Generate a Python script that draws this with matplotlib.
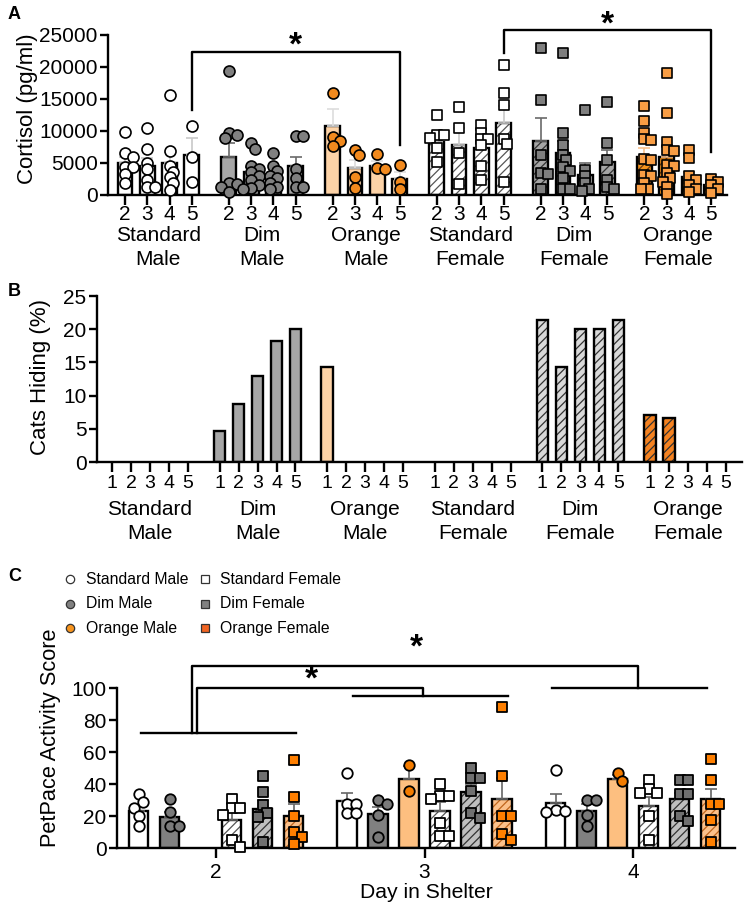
import numpy as np
import matplotlib
matplotlib.use("Agg")
import matplotlib.pyplot as plt
from matplotlib.lines import Line2D

plt.rcParams["font.family"] = ["Liberation Sans", "DejaVu Sans"]
plt.rcParams["hatch.linewidth"] = 0.9

# ---------------- data ----------------
groups = ["Standard Male", "Dim Male", "Orange Male",
          "Standard Female", "Dim Female", "Orange Female"]
group_ticks = ["Standard\nMale", "Dim\nMale", "Orange\nMale",
               "Standard\nFemale", "Dim\nFemale", "Orange\nFemale"]

# A: cortisol (pg/ml), shelter days 2-5
cort_days = ["2", "3", "4", "5"]
cort_mean_std_m = [5000, 4500, 4950, 6250]
cort_mean_dim_m = [6000, 3600, 2800, 4500]
cort_mean_org_m = [10800, 4200, 4500, 2450]
cort_mean_std_f = [8300, 7800, 7300, 11300]
cort_mean_dim_f = [8500, 6500, 3100, 5200]
cort_mean_org_f = [6000, 6000, 2800, 1500]
cort_sem_std_m = [900, 1300, 1800, 2600]
cort_sem_dim_m = [2200, 800, 600, 1500]
cort_sem_org_m = [2600, 1300, 800, 1100]
cort_sem_std_f = [1000, 2700, 1200, 2600]
cort_sem_dim_f = [3600, 1900, 1900, 1800]
cort_sem_org_f = [1300, 1500, 800, 400]
cort_pts_std_m = [[9800, 6500, 6000, 4400, 4400, 3300, 1900],
                  [10400, 7200, 5000, 4000, 2300, 1200, 1200],
                  [15600, 6900, 4500, 3600, 2800, 1900, 800],
                  [10800, 6000, 2000]]
cort_pts_dim_m = [[19300, 9700, 9400, 8900, 1800, 1700, 1300, 400],
                  [8100, 7200, 4600, 4000, 3600, 3000, 2300, 1600, 1100, 1000],
                  [6600, 4500, 3700, 3000, 2600, 1900, 1300, 900],
                  [9200, 9200, 4000, 2700, 1200, 1200]]
cort_pts_org_m = [[16000, 9100, 8500, 7700],
                  [7100, 6200, 2800, 1100],
                  [6400, 4200, 4100],
                  [4700, 2100, 900]]
cort_pts_std_f = [[12500, 9300, 9300, 8900, 7300, 5200],
                  [13700, 10500, 6600, 1700],
                  [10900, 9700, 8700, 8700, 7800, 4500, 2300],
                  [20300, 16000, 14100, 8700, 7900, 2100]]
cort_pts_dim_f = [[23000, 14800, 6200, 3500, 3300, 1000],
                  [22200, 9700, 7800, 6200, 5500, 4300, 3700, 2600, 900, 900],
                  [13300, 3900, 3000, 1800, 1000, 700],
                  [14600, 8100, 5500, 2300, 1200, 1000]]
cort_pts_org_f = [[13900, 11600, 9700, 8700, 8600, 5600, 5500, 3100, 3000, 1800, 1000, 900],
                  [19100, 12800, 8300, 7000, 6800, 4700, 4500, 3400, 2600, 2000, 1300, 100],
                  [7000, 5800, 3000, 2400, 1600, 1000, 500],
                  [2500, 2100, 1600, 1000, 300]]

# B: cats hiding (%), days 1-5
hide_days = ["1", "2", "3", "4", "5"]
hide_std_m = [0, 0, 0, 0, 0]
hide_dim_m = [4.7, 8.7, 13.0, 18.2, 20.0]
hide_org_m = [14.3, 0, 0, 0, 0]
hide_std_f = [0, 0, 0, 0, 0]
hide_dim_f = [21.4, 14.3, 20.0, 20.0, 21.4]
hide_org_f = [7.1, 6.7, 0, 0, 0]

# C: PetPace activity score, days 2-4
act_days = [2, 3, 4]
act_mean_std_m = [23.5, 29.6, 28.1]
act_mean_dim_m = [19.8, 21.3, 23.3]
act_mean_org_m = [np.nan, 43.1, 43.5]
act_mean_std_f = [17.7, 23.3, 26.5]
act_mean_dim_f = [24.4, 35.0, 30.6]
act_mean_org_f = [20.2, 30.6, 30.6]
act_sem_std_m = [3.5, 4.8, 5.7]
act_sem_dim_m = [3.0, 4.5, 4.3]
act_sem_org_m = [0, 8.2, 2.5]
act_sem_std_f = [5.0, 5.5, 5.7]
act_sem_dim_f = [5.5, 5.0, 4.2]
act_sem_org_f = [7.8, 13.5, 6.3]
act_pts_std_m = [[34, 29, 25.5, 20, 14], [47, 28, 28, 22, 22], [49, 24, 23.5, 23]]
act_pts_dim_m = [[31, 23, 14, 14], [30, 28, 21, 7], [30.5, 30, 21, 14]]
act_pts_org_m = [[], [52, 36], [47, 42]]
act_pts_std_f = [[31, 25, 25, 21, 5, 1], [40, 33, 33, 31, 16, 8, 8], [43, 37, 34.5, 34.5, 20, 5]]
act_pts_dim_f = [[45, 35, 27, 22, 19.5, 4], [50, 44, 44, 36, 22, 19], [43, 43, 34, 34, 20, 17]]
act_pts_org_f = [[55, 32, 20, 10, 7, 3], [88.5, 45, 20, 20, 9, 5], [56, 43, 28, 28, 18, 4]]

# ---------------- helpers ----------------
W, H = 748, 915


def box(l, t, r, b):
    return [l / W, 1 - b / H, (r - l) / W, (b - t) / H]


def style(ax):
    for s in ["top", "right"]:
        ax.spines[s].set_visible(False)
    for s in ["left", "bottom"]:
        ax.spines[s].set_linewidth(1.7)
    ax.tick_params(width=1.7, length=6, labelsize=15, colors="black")
    ax.tick_params(axis="y", pad=1.5)


def bars(ax, x, h, width, fill, hatch, hatch_col, lw=1.7):
    if hatch:
        ax.bar(x, h, width, color=fill, edgecolor=hatch_col, hatch=hatch,
               linewidth=0, zorder=2)
        ax.bar(x, h, width, fill=False, edgecolor="black", linewidth=lw, zorder=2.2)
    else:
        ax.bar(x, h, width, color=fill, edgecolor="black", linewidth=lw, zorder=2)


def swarm(ax, xc, vals, d, gap=0.55, step=0.35):
    # spread overlapping points sideways (like a bee-swarm)
    pix = ax.transData.transform(np.column_stack([np.full(len(vals), xc), vals]))
    placed, out = [], []
    for px, py in pix:
        k = 0
        found = None
        while found is None:
            cands = [px] if k == 0 else [px + k * step * d, px - k * step * d]
            for c in cands:
                if all(np.hypot(c - qx, py - qy) >= d * gap for qx, qy in placed):
                    found = c
                    break
            k += 1
        placed.append((found, py))
        out.append(found)
    return ax.transData.inverted().transform(np.column_stack([out, pix[:, 1]]))[:, 0]


fig = plt.figure(figsize=(W / 100, H / 100), dpi=100)

# ---------------- panel A ----------------
axA = fig.add_axes(box(108, 35, 727, 195))
style(axA)
A_step = 4.66
A_means = [cort_mean_std_m, cort_mean_dim_m, cort_mean_org_m,
           cort_mean_std_f, cort_mean_dim_f, cort_mean_org_f]
A_sems = [cort_sem_std_m, cort_sem_dim_m, cort_sem_org_m,
          cort_sem_std_f, cort_sem_dim_f, cort_sem_org_f]
A_pts = [cort_pts_std_m, cort_pts_dim_m, cort_pts_org_m,
         cort_pts_std_f, cort_pts_dim_f, cort_pts_org_f]
A_fill = ["white", "#a6a6a6", "#fdd3a7", "white", "#a6a6a6", "#f7941d"]
A_hatch = [None, None, None, "////", "////", "////"]
A_hcol = [None, None, None, "#555555", "#333333", "#6b3a10"]
A_pcol = ["white", "#808080", "#f28a1e", "white", "#7f7f7f", "#f89d44"]
A_mk = ["o", "o", "o", "s", "s", "s"]
A_ecol = ["#c8c8c8", "#6a6a6a", "#dddddd", "#c8c8c8", "#6a6a6a", "#f9c08a"]

axA.set_xlim(-0.76, 27.0)
axA.set_ylim(0, 25000)
axA.set_yticks(np.arange(0, 25001, 5000))
xt, xl = [], []
for g in range(6):
    xs = g * A_step + np.arange(len(cort_days))
    xt += list(xs)
    xl += cort_days
    bars(axA, xs, A_means[g], 0.66, A_fill[g], A_hatch[g], A_hcol[g])
    axA.errorbar(xs, A_means[g], yerr=[np.zeros(4), A_sems[g]], fmt="none",
                 ecolor=A_ecol[g], elinewidth=1.2, capsize=4, capthick=1.2, zorder=3)
    for i, x in enumerate(xs):
        d = 11 if A_mk[g] == "o" else 10
        px = swarm(axA, x, A_pts[g][i], d)
        axA.scatter(px, A_pts[g][i], s=(d / 1.389) ** 2, marker=A_mk[g],
                    facecolor=A_pcol[g], edgecolor="black", linewidth=1.2,
                    zorder=4, clip_on=False)
    axA.text(g * A_step + 1.5, -0.195, group_ticks[g], transform=axA.get_xaxis_transform(),
             ha="center", va="top", fontsize=15, linespacing=1.3)
axA.set_xticks(xt)
axA.set_xticklabels(xl)
axA.tick_params(axis="x", labelsize=15, length=7, pad=0.5)
axA.set_ylabel("Cortisol (pg/ml)", fontsize=16)
axA.yaxis.set_label_coords(-0.113, 0.54)

# significance brackets
x1, x2 = 3, 2 * A_step + 3
axA.plot([x1, x1, x2, x2], [13300, 22300, 22300, 7800], color="black", lw=1.7, clip_on=False)
axA.text((x1 + x2) / 2, 23300, "*", ha="center", va="center", fontsize=24, fontweight="bold")
x1, x2 = 3 * A_step + 3, 5 * A_step + 3
axA.plot([x1, x1, x2, x2], [22200, 25800, 25800, 6700], color="black", lw=1.7, clip_on=False)
axA.text((x1 + x2) / 2, 26600, "*", ha="center", va="center", fontsize=24,
         fontweight="bold", clip_on=False)

# ---------------- panel B ----------------
axB = fig.add_axes(box(97, 296, 742, 462))
style(axB)
B_step = 5.67
B_vals = [hide_std_m, hide_dim_m, hide_org_m, hide_std_f, hide_dim_f, hide_org_f]
B_fill = ["white", "#a6a6a6", "#fdd3a7", "white", "#d9d9d9", "#f58220"]
axB.set_xlim(-0.79, 33.2)
axB.set_ylim(0, 25)
axB.set_yticks(np.arange(0, 26, 5))
xt, xl = [], []
for g in range(6):
    xs = g * B_step + np.arange(len(hide_days))
    xt += list(xs)
    xl += hide_days
    h = np.array(B_vals[g], dtype=float)
    keep = h > 0
    if keep.any():
        bars(axB, xs[keep], h[keep], 0.6, B_fill[g], A_hatch[g], "#333333")
    axB.text(g * B_step + 2, -0.23, group_ticks[g], transform=axB.get_xaxis_transform(),
             ha="center", va="top", fontsize=15, linespacing=1.3)
axB.set_xticks(xt)
axB.set_xticklabels(xl)
axB.tick_params(axis="x", labelsize=14, length=7, pad=2)
axB.set_ylabel("Cats Hiding (%)", fontsize=16)
axB.yaxis.set_label_coords(-0.072, 0.51)

# ---------------- panel C ----------------
axC = fig.add_axes(box(117, 688.3, 735, 848.3))
style(axC)
C_off = 0.1487
C_means = [act_mean_std_m, act_mean_dim_m, act_mean_org_m,
           act_mean_std_f, act_mean_dim_f, act_mean_org_f]
C_sems = [act_sem_std_m, act_sem_dim_m, act_sem_org_m,
          act_sem_std_f, act_sem_dim_f, act_sem_org_f]
C_pts = [act_pts_std_m, act_pts_dim_m, act_pts_org_m,
         act_pts_std_f, act_pts_dim_f, act_pts_org_f]
C_fill = ["white", "#808080", "#fdbf80", "white", "#bfbfbf", "#fbc08a"]
C_hcol = [None, None, None, "#555555", "#333333", "#c0651c"]
C_pcol = ["white", "#7a7a7a", "#f47c00", "white", "#707070", "#ff7f00"]
axC.set_xlim(1.525, 4.489)
axC.set_ylim(0, 100)
axC.set_yticks(np.arange(0, 101, 20))
for g in range(6):
    xs = np.array(act_days) + (g - 2.5) * C_off
    m = np.array(C_means[g], dtype=float)
    ok = ~np.isnan(m)
    bars(axC, xs[ok], m[ok], 0.093, C_fill[g], A_hatch[g], C_hcol[g])
    axC.errorbar(xs[ok], m[ok], yerr=[np.zeros(ok.sum()), np.array(C_sems[g])[ok]],
                 fmt="none", ecolor="#666666", elinewidth=1.2, capsize=4,
                 capthick=1.2, zorder=3)
    for i, x in enumerate(xs):
        if not C_pts[g][i]:
            continue
        d = 10.5 if A_mk[g] == "o" else 9.5
        px = swarm(axC, x, C_pts[g][i], d, gap=0.85, step=0.45)
        axC.scatter(px, C_pts[g][i], s=(d / 1.389) ** 2, marker=A_mk[g],
                    facecolor=C_pcol[g], edgecolor="black", linewidth=1.3,
                    zorder=4, clip_on=False)
axC.set_xticks(act_days)
axC.tick_params(axis="x", labelsize=15, length=7)
axC.set_ylabel("PetPace Activity Score", fontsize=15.7)
axC.yaxis.set_label_coords(-0.09, 0.69)
axC.set_xlabel("Day in Shelter", fontsize=15.2)
axC.xaxis.set_label_coords(0.5, -0.215)

# bracket lines between days
bk = dict(color="black", lw=1.7, clip_on=False)
axC.plot([1.640, 2.382], [72, 72], **bk)
axC.plot([2.657, 3.400], [95, 95], **bk)
axC.plot([3.610, 4.353], [100, 100], **bk)
axC.plot([1.910, 1.910, 2.993, 2.993], [72, 100, 100, 95], **bk)
axC.plot([1.883, 1.883, 4.022, 4.022], [72, 114, 114, 100], **bk)
axC.text(2.456, 105, "*", ha="center", va="center", fontsize=24, fontweight="bold")
axC.text(2.96, 125, "*", ha="center", va="center", fontsize=24, fontweight="bold")

# legend for C
L_fill = ["white", "#808080", "#f7941d", "white", "#808080", "#f26522"]
for g in range(6):
    col, row = divmod(g, 3)
    mx = [70, 205][col]
    tx = [86, 220][col]
    ty = [579, 603.5, 628][row]
    fig.add_artist(Line2D([mx / W], [1 - ty / H], marker=A_mk[g], markersize=6,
                          markerfacecolor=L_fill[g], markeredgecolor="#333333",
                          markeredgewidth=0.9, linestyle="none", transform=fig.transFigure))
    fig.text(tx / W, 1 - ty / H, groups[g], fontsize=11.3, va="center", ha="left")

# panel letters
for lab, y in [("A", 6), ("B", 283), ("C", 568)]:
    fig.text(8 / W, 1 - y / H, lab, fontsize=13, fontweight="bold", va="top", ha="left")

fig.savefig("out.png", dpi=100)
